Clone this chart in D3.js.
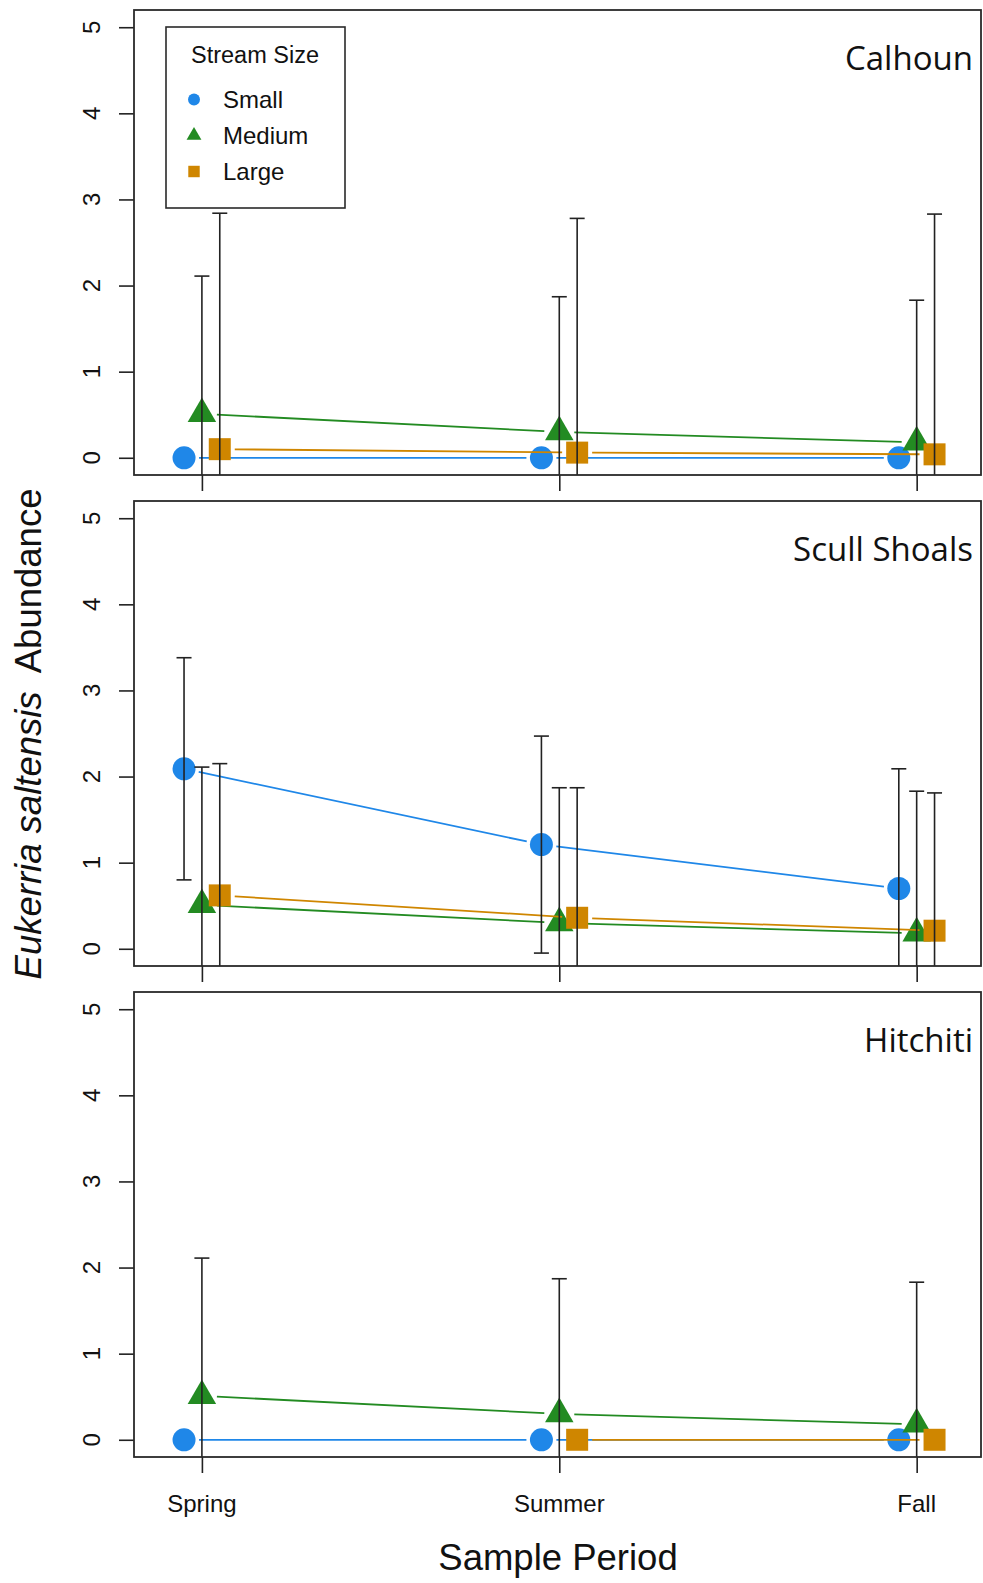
<!DOCTYPE html>
<html>
<head>
<meta charset="utf-8">
<script src="https://cdn.jsdelivr.net/npm/d3@7"></script>
<style>
  html, body { margin: 0; padding: 0; background: #fff; }
  svg { display: block; }
</style>
</head>
<body>
<script>
// Sampling periods and sites
const periods = ["Spring", "Summer", "Fall"];
const sites = ["Calhoun", "Scull Shoals", "Hitchiti"];
const sizes = ["Small", "Medium", "Large"];
const yTicks = [0, 1, 2, 3, 4, 5];

// Mean abundance per stream size (Spring, Summer, Fall); null = not sampled
const calhounSmall = [0, 0, 0];
const calhounMedium = [0.51, 0.30, 0.18];
const calhounLarge = [0.10, 0.06, 0.04];
const scullSmall = [2.09, 1.21, 0.70];
const scullMedium = [0.51, 0.30, 0.18];
const scullLarge = [0.62, 0.36, 0.21];
const hitchitiSmall = [0, 0, 0];
const hitchitiMedium = [0.51, 0.30, 0.18];
const hitchitiLarge = [null, 0, 0];

// Error (± half-width of the bars)
const calhounSmallErr = [0, 0, 0];
const calhounMediumErr = [1.60, 1.57, 1.65];
const calhounLargeErr = [2.74, 2.72, 2.79];
const scullSmallErr = [1.29, 1.26, 1.39];
const scullMediumErr = [1.60, 1.57, 1.65];
const scullLargeErr = [1.53, 1.51, 1.60];
const hitchitiSmallErr = [0, 0, 0];
const hitchitiMediumErr = [1.60, 1.57, 1.65];
const hitchitiLargeErr = [null, 0, 0];

const panelData = [
  { site: sites[0], means: [calhounSmall, calhounMedium, calhounLarge], errs: [calhounSmallErr, calhounMediumErr, calhounLargeErr] },
  { site: sites[1], means: [scullSmall, scullMedium, scullLarge], errs: [scullSmallErr, scullMediumErr, scullLargeErr] },
  { site: sites[2], means: [hitchitiSmall, hitchitiMedium, hitchitiLarge], errs: [hitchitiSmallErr, hitchitiMediumErr, hitchitiLargeErr] }
];

// Styling
const colors = ["#1f87e8", "#238b22", "#cf8600"];
const offsets = [-0.05, 0, 0.05];
const W = 983, H = 1583;
const boxLeft = 134, boxRight = 981;
const panelTops = [10, 501, 992];
const panelH = 465;
const sansFont = "'Liberation Sans', Arial, Helvetica, sans-serif";
const titleFont = "'Open Sans', 'Noto Sans', sans-serif";

const svg = d3.select("body").append("svg")
  .attr("width", W).attr("height", H)
  .attr("viewBox", `0 0 ${W} ${H}`);
svg.append("rect").attr("width", W).attr("height", H).attr("fill", "#fff");

const x = d3.scaleLinear().domain([0.81, 3.18]).range([boxLeft, boxRight]);

function symbolPath(i, scale) {
  const k = scale || 1;
  if (i === 0) return d3.symbol(d3.symbolCircle, Math.PI * Math.pow(11.5 * k, 2))();
  if (i === 1) return d3.symbol(d3.symbolTriangle, Math.sqrt(3) / 4 * Math.pow(28.5 * k, 2))();
  return d3.symbol(d3.symbolSquare, Math.pow(22 * k, 2))();
}

panelData.forEach((pd, p) => {
  const top = panelTops[p];
  const bottom = top + panelH;
  const y = d3.scaleLinear().domain([-0.2, 5.2]).range([bottom, top]);
  const g = svg.append("g");

  const clipId = "clip" + p;
  svg.append("clipPath").attr("id", clipId)
    .append("rect").attr("x", boxLeft).attr("y", top)
    .attr("width", boxRight - boxLeft).attr("height", panelH);

  // y axis
  const yAxis = d3.axisLeft(y).tickValues(yTicks).tickSize(15).tickFormat("");
  const ya = g.append("g").attr("transform", `translate(${boxLeft},0)`).call(yAxis);
  ya.select(".domain").remove();
  ya.selectAll(".tick line").attr("stroke", "#222").attr("stroke-width", 1.6);
  g.selectAll(".ylab").data(yTicks).enter().append("text")
    .attr("transform", d => `translate(100,${y(d)}) rotate(-90)`)
    .attr("text-anchor", "middle")
    .attr("font-family", sansFont).attr("font-size", 24).attr("fill", "#111")
    .text(d => d);

  // x axis ticks (labels only on the bottom panel)
  const xAxis = d3.axisBottom(x).tickValues([1, 2, 3]).tickSize(16).tickFormat("");
  const xa = g.append("g").attr("transform", `translate(0,${bottom})`).call(xAxis);
  xa.select(".domain").remove();
  xa.selectAll(".tick line").attr("stroke", "#222").attr("stroke-width", 1.6);
  if (p === panelData.length - 1) {
    g.selectAll(".xlab").data(periods).enter().append("text")
      .attr("x", (d, i) => x(i + 1)).attr("y", bottom + 55)
      .attr("text-anchor", "middle")
      .attr("font-family", sansFont).attr("font-size", 24).attr("fill", "#111")
      .text(d => d);
  }

  // series: lines with gaps around points, then points
  pd.means.forEach((vals, s) => {
    const pts = vals.map((v, i) => v == null ? null : [x(i + 1 + offsets[s]), y(v)]);
    const gap = 15;
    for (let i = 0; i < pts.length - 1; i++) {
      const a = pts[i], b = pts[i + 1];
      if (!a || !b) continue;
      const dx = b[0] - a[0], dy = b[1] - a[1];
      const len = Math.hypot(dx, dy);
      const ux = dx / len, uy = dy / len;
      g.append("line")
        .attr("x1", a[0] + ux * gap).attr("y1", a[1] + uy * gap)
        .attr("x2", b[0] - ux * gap).attr("y2", b[1] - uy * gap)
        .attr("stroke", colors[s]).attr("stroke-width", 1.8);
    }
    g.selectAll(null).data(pts.filter(d => d)).enter().append("path")
      .attr("d", symbolPath(s))
      .attr("transform", d => `translate(${d[0]},${d[1]})`)
      .attr("fill", colors[s]);
  });

  // error bars, clipped to the plotting region
  const eb = g.append("g").attr("clip-path", `url(#${clipId})`);
  pd.means.forEach((vals, s) => {
    vals.forEach((v, i) => {
      const e = pd.errs[s][i];
      if (v == null || !e) return;
      const cx = x(i + 1 + offsets[s]);
      const y1 = y(v + e), y0 = y(v - e);
      eb.append("line").attr("x1", cx).attr("x2", cx).attr("y1", y0).attr("y2", y1)
        .attr("stroke", "#222").attr("stroke-width", 1.6);
      [y1, y0].forEach(yy => {
        eb.append("line").attr("x1", cx - 7.5).attr("x2", cx + 7.5).attr("y1", yy).attr("y2", yy)
          .attr("stroke", "#222").attr("stroke-width", 1.6);
      });
    });
  });

  // frame
  g.append("rect").attr("x", boxLeft).attr("y", top)
    .attr("width", boxRight - boxLeft).attr("height", panelH)
    .attr("fill", "none").attr("stroke", "#2a2a2a").attr("stroke-width", 1.8);

  // site name
  g.append("text").attr("x", 973).attr("y", top + 60)
    .attr("text-anchor", "end")
    .attr("font-family", titleFont).attr("font-size", 33).attr("fill", "#111")
    .text(pd.site);
});

// legend
const lg = svg.append("g");
lg.append("rect").attr("x", 166).attr("y", 27).attr("width", 179).attr("height", 181)
  .attr("fill", "#fff").attr("stroke", "#2a2a2a").attr("stroke-width", 1.6);
lg.append("text").attr("x", 255).attr("y", 62.5).attr("text-anchor", "middle")
  .attr("font-family", sansFont).attr("font-size", 23.5).attr("fill", "#111")
  .text("Stream Size");
sizes.forEach((sz, i) => {
  const cy = 99.5 + i * 36;
  lg.append("path").attr("d", symbolPath(i, 0.52))
    .attr("transform", `translate(194,${cy})`).attr("fill", colors[i]);
  lg.append("text").attr("x", 223).attr("y", cy + 8.5)
    .attr("font-family", sansFont).attr("font-size", 24).attr("fill", "#111")
    .text(sz);
});

// axis titles
svg.append("text").attr("x", 558).attr("y", 1570).attr("text-anchor", "middle")
  .attr("font-family", sansFont).attr("font-size", 36.5).attr("fill", "#111")
  .text("Sample Period");

const yt = svg.append("text")
  .attr("transform", "translate(41,734) rotate(-90)")
  .attr("text-anchor", "middle")
  .attr("font-family", sansFont).attr("font-size", 36.5).attr("fill", "#111")
  .attr("xml:space", "preserve");
yt.append("tspan").attr("font-style", "italic").text("Eukerria saltensis");
yt.append("tspan").attr("dx", 10).text(" Abundance");
</script>
</body>
</html>
